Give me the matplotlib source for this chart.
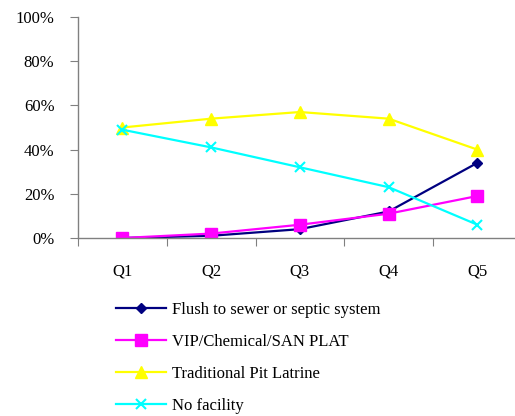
import matplotlib.pyplot as plt
from matplotlib.ticker import FixedLocator, PercentFormatter

categories = ["Q1", "Q2", "Q3", "Q4", "Q5"]
flush = [0, 1, 4, 12, 34]
vip = [0, 2, 6, 11, 19]
pit = [50, 54, 57, 54, 40]
no_facility = [49, 41, 32, 23, 6]

plt.rcParams["font.family"] = ["Liberation Serif", "DejaVu Serif"]

fig = plt.figure(figsize=(5.15, 4.16), dpi=100)
ax = fig.add_axes([78 / 515, 178 / 416, 437 / 515, 221 / 416])

x = list(range(1, len(categories) + 1))
ax.plot(x, flush, color="#000080", marker="D", markersize=5, linewidth=1.6,
        label="Flush to sewer or septic system")
ax.plot(x, vip, color="#FF00FF", marker="s", markersize=8, linewidth=1.6,
        label="VIP/Chemical/SAN PLAT")
ax.plot(x, pit, color="#FFFF00", marker="^", markersize=8, linewidth=1.6,
        label="Traditional Pit Latrine")
ax.plot(x, no_facility, color="#00FFFF", marker="x", markersize=7, markeredgewidth=1.5,
        linewidth=1.6, label="No facility")

ax.set_ylim(0, 100)
ax.set_xlim(0.5, 0.5 + 437 / 88.75)
ax.yaxis.set_major_locator(FixedLocator([0, 20, 40, 60, 80, 100]))
ax.yaxis.set_major_formatter(PercentFormatter(decimals=0))

# boundaries get the tick marks, centres get the labels
ax.xaxis.set_major_locator(FixedLocator([0.5 + i for i in range(6)]))
ax.xaxis.set_major_formatter(plt.NullFormatter())
ax.xaxis.set_minor_locator(FixedLocator(x))
ax.set_xticklabels(categories, minor=True)
ax.tick_params(axis="x", which="major", direction="out", length=6, color="#808080")
ax.tick_params(axis="x", which="minor", length=0, pad=18, labelsize=12)
ax.tick_params(axis="y", direction="out", length=6, color="#808080", pad=11, labelsize=12)

for side in ["top", "right"]:
    ax.spines[side].set_visible(False)
for side in ["left", "bottom"]:
    ax.spines[side].set_color("#808080")
    ax.spines[side].set_linewidth(1.0)

fig.legend(loc="upper left", bbox_to_anchor=(109 / 515, 1 - 295 / 416), frameon=False,
           fontsize=12, handlelength=3.0, labelspacing=0.97, handletextpad=0.4,
           borderaxespad=0)

fig.savefig("out.png", dpi=100)
